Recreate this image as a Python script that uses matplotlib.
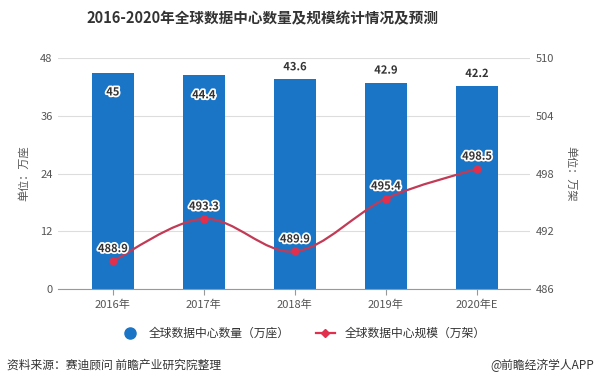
import numpy as np
import matplotlib
matplotlib.use("Agg")
import matplotlib.pyplot as plt
import matplotlib.patheffects as pe
from matplotlib.path import Path
from matplotlib.patches import PathPatch
from matplotlib.lines import Line2D

plt.rcParams['font.family'] = ['Noto Sans CJK SC', 'DejaVu Sans']

years = ["2016年", "2017年", "2018年", "2019年", "2020年E"]
count = [45, 44.4, 43.6, 42.9, 42.2]        # 万座
scale = [488.9, 493.3, 489.9, 495.4, 498.5]  # 万架

bar_color = "#1a75c6"
line_color = "#c23a55"
dot_color = "#e0304e"
grey = "#555555"

fig = plt.figure(figsize=(6, 3.9), dpi=100)
ax = fig.add_axes([0.097, 0.259, 0.786, 0.592])
ax2 = ax.twinx()

x = np.arange(len(years))
ax.bar(x, count, width=0.46, color=bar_color, zorder=2)
ax.set_xlim(-0.6, 4.58)
ax.set_ylim(0, 48)
ax.set_yticks([0, 12, 24, 36, 48])
ax2.set_ylim(486, 510)
ax2.set_yticks([486, 492, 498, 504, 510])

ax.grid(axis="y", color="#dddddd", lw=0.8, zorder=0)
for a in (ax, ax2):
    for s in a.spines.values():
        s.set_visible(False)
    a.tick_params(axis="y", length=0, labelsize=8, colors=grey, pad=4)
ax.spines["bottom"].set_visible(True)
ax.spines["bottom"].set_color("#999999")
ax.tick_params(axis="x", length=4, color="#999999", labelsize=8, labelcolor=grey)
ax.set_xticks(x)
ax.set_xticklabels(years)

halo = [pe.withStroke(linewidth=2.5, foreground="white")]
for i, v in enumerate(count):
    off = -14 if i < 2 else 9
    ax.annotate(f"{v:g}", (x[i], v), xytext=(0, off), textcoords="offset points",
                ha="center", va="center", fontsize=8, fontweight="bold",
                color="#333333", path_effects=halo, zorder=5)

# smooth curve through the points (Catmull-Rom as cubic Bezier)
pts = np.column_stack([x, scale])
verts = [pts[0]]
codes = [Path.MOVETO]
for i in range(len(pts) - 1):
    p0 = pts[max(i - 1, 0)]
    p1 = pts[i]
    p2 = pts[i + 1]
    p3 = pts[min(i + 2, len(pts) - 1)]
    verts += [p1 + (p2 - p0) / 6, p2 - (p3 - p1) / 6, p2]
    codes += [Path.CURVE4] * 3
ax2.add_patch(PathPatch(Path(verts, codes), fill=False, ec=line_color, lw=1.6, zorder=3))
ax2.plot(x, scale, "o", color=dot_color, ms=5, zorder=4)
for i, v in enumerate(scale):
    ax2.annotate(f"{v:g}", (x[i], v), xytext=(0, 9), textcoords="offset points",
                 ha="center", va="center", fontsize=8, fontweight="bold",
                 color="#333333", path_effects=halo, zorder=5)

ax.set_ylabel("单位：万座", fontsize=8, color=grey, labelpad=8)
ax2.set_ylabel("单位：万架", fontsize=8, color=grey, rotation=-90, labelpad=16)

fig.text(0.437, 0.953, "2016-2020年全球数据中心数量及规模统计情况及预测",
         ha="center", va="center", fontsize=10.5, fontweight="bold", color="#333333")

handles = [Line2D([], [], ls="none", marker="o", ms=8, color=bar_color),
           Line2D([], [], color=dot_color, lw=1.6, marker="D", ms=4)]
fig.legend(handles, ["全球数据中心数量（万座）", "全球数据中心规模（万架）"],
           loc="center", bbox_to_anchor=(0.505, 0.145), ncol=2, frameon=False,
           fontsize=8.5, handlelength=1.6, columnspacing=2.2, labelcolor="#333333")

fig.text(0.012, 0.063, "资料来源：赛迪顾问 前瞻产业研究院整理", fontsize=8.5, color="#333333", va="center")
fig.text(0.99, 0.063, "@前瞻经济学人APP", fontsize=8.5, color="#333333", va="center", ha="right")

fig.savefig("out.png", dpi=100)
